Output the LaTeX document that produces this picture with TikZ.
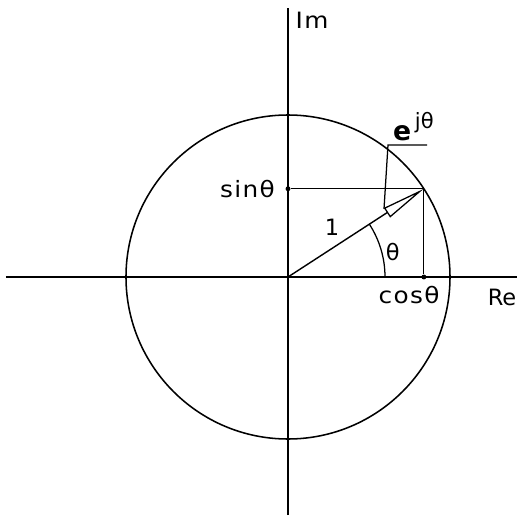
\documentclass[tikz,border=0pt]{standalone}
\usepackage{fontspec}
\setmainfont{DejaVu Sans}
\usetikzlibrary{arrows.meta,positioning}

\begin{document}
\begin{tikzpicture}[
    font=\fontsize{16}{19}\selectfont,
    axis/.style    = {line width=1.1pt},
    unitcircle/.style = {line width=1.1pt},
    proj/.style    = {line width=0.9pt},
    phasor/.style  = {line width=1pt, -{Triangle[open, length=11mm, width=2.8mm, line width=0.9pt]}},
    leader/.style  = {line width=0.9pt},
    dot/.style     = {circle, fill=black, inner sep=0pt, minimum size=3.5pt},
    spaced/.style  = {font=\fontsize{16}{19}\selectfont\addfontfeature{FakeStretch=1.1,LetterSpace=6}}
  ]
\useasboundingbox (-7.2,-5.95) rectangle (5.85,6.925);

% ---------------------------------------------------------
% Axes and unit circle
% ---------------------------------------------------------
\coordinate (O) at (0,0);
\coordinate (ReStart) at (-7.05,0);
\coordinate (ReEnd) at (5.725,0);
\coordinate (ImStart) at (0,-5.95);
\coordinate (ImEnd) at (0,6.725);
\draw[axis] (ReStart) -- (ReEnd);
\draw[axis] (ImStart) -- (ImEnd);
\draw[unitcircle] (O) circle (4.05);

\node (Re) at (5.35,-0.5) {Re};
\node[spaced] (Im) at (0.6,6.425) {Im};

% ---------------------------------------------------------
% Point on the circle and its projections
% ---------------------------------------------------------
\coordinate (P) at (33:4.05);
\node[dot] (sinP) at (0,{4.05*sin(33)}) {};
\node[dot] (cosP) at ({4.05*cos(33)},0) {};
\draw[proj] (sinP) -- (P);
\draw[proj] (P) -- (cosP);

\node[spaced, left=4pt of sinP] (sinlabel) {sinθ};
\node[spaced] (coslabel) at (3.025,-0.45) {cosθ};

% Phasor with open arrowhead
\draw[phasor] (O) -- (P);
\node (one) at (1.1,1.25) {1};

% Angle theta
\coordinate (arcStart) at (2.425,0);
\draw[proj] (arcStart) arc[start angle=0, end angle=33, radius=2.425];
\node (theta) at (2.62,0.625) {θ};

% Leader to the label e^{j theta}
\coordinate (eFoot) at (2.40,1.70);
\coordinate (eBend) at (2.5,3.3);
\coordinate (eEnd) at (3.475,3.3);
\draw[leader] (eFoot) -- (eBend) -- (eEnd);
\node[anchor=base west, inner sep=0pt] (expo) at (2.62,3.4)
  {{\fontsize{19}{22}\selectfont\bfseries e}\,\raisebox{1.0ex}{\fontsize{15}{17}\selectfont jθ}};
\end{tikzpicture}
\end{document}
